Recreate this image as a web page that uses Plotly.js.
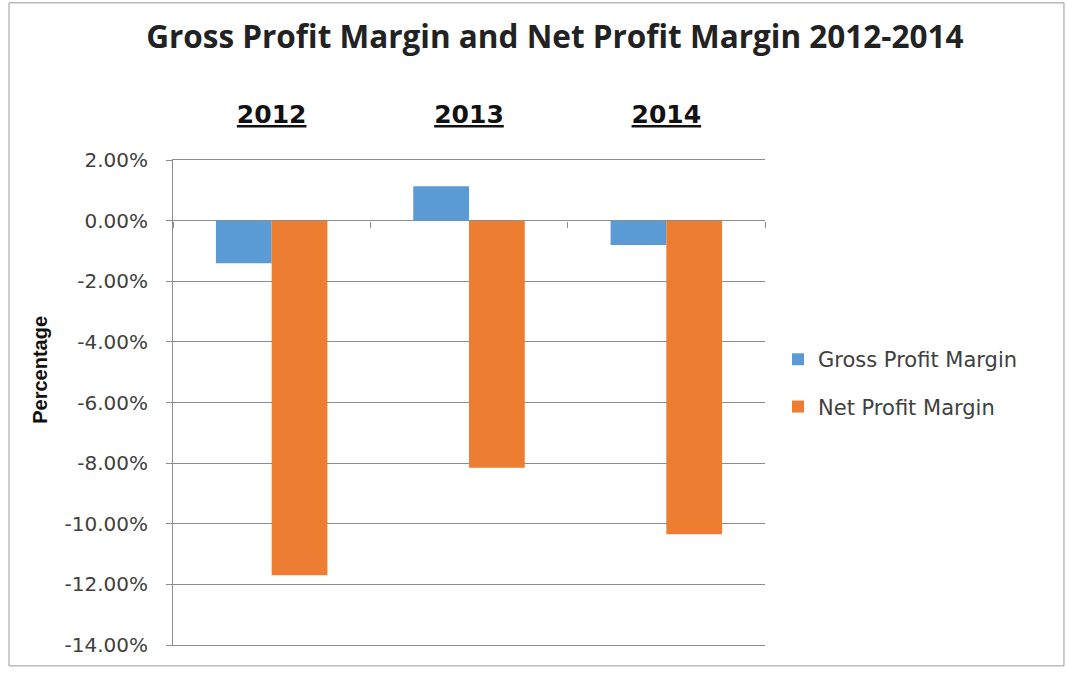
<!DOCTYPE html>
<html>
<head>
<meta charset="utf-8">
<script src="https://cdn.plot.ly/plotly-3.0.1.min.js"></script>
<style>html,body{margin:0;padding:0;background:#fff;}#chart{width:1067px;height:673px;}</style>
</head>
<body>
<div id="chart"></div>
<script>
const years = ['2012', '2013', '2014'];
const yearLabels = ['<b><u>2012</u></b>', '<b><u>2013</u></b>', '<b><u>2014</u></b>'];
const grossProfitMargin = [-0.0141, 0.0113, -0.0080];
const netProfitMargin = [-0.1170, -0.0815, -0.1035];
const yTickVals = [0.02, 0, -0.02, -0.04, -0.06, -0.08, -0.10, -0.12, -0.14];
const yTickText = ['2.00%', '0.00%', '-2.00%', '-4.00%', '-6.00%', '-8.00%', '-10.00%', '-12.00%', '-14.00%'];
const yMin = -0.14, yMax = 0.02;

const gridColor = '#8c8c8c';
const textColor = '#404040';

const traces = [
  {type: 'bar', name: 'Gross Profit Margin', x: years, y: grossProfitMargin,
   marker: {color: '#5B9BD5'}, legendgroup: 'g1', hoverinfo: 'x+y'},
  {type: 'bar', name: 'Net Profit Margin', x: years, y: netProfitMargin,
   marker: {color: '#ED7D31'}, legendgroup: 'g2', hoverinfo: 'x+y'},
  {type: 'scatter', mode: 'markers', x: years, y: years.map(() => 0), xaxis: 'x2',
   marker: {opacity: 0}, showlegend: false, hoverinfo: 'skip'}
];

const layout = {
  width: 1067, height: 673,
  paper_bgcolor: '#ffffff', plot_bgcolor: '#ffffff',
  margin: {l: 173, r: 302, t: 160, b: 28},
  font: {family: 'DejaVu Sans, sans-serif', color: textColor},
  title: {text: '<b>Gross Profit Margin and Net Profit Margin 2012-2014</b>',
    font: {family: 'Open Sans, sans-serif', size: 31.5, color: '#222'},
    x: 0.52, xanchor: 'center', y: 0.945, yanchor: 'middle'},
  barmode: 'group', bargap: 0.435, bargroupgap: 0,
  xaxis: {type: 'category', side: 'top', range: [-0.5, 2.5],
    tickvals: years, ticktext: yearLabels, ticks: '', showline: true, mirror: true,
    linecolor: gridColor, linewidth: 1, showgrid: false,
    zeroline: false, ticklabelstandoff: 26,
    tickfont: {family: 'DejaVu Sans, sans-serif', size: 25, color: '#111'}},
  xaxis2: {type: 'category', overlaying: 'x', anchor: 'free', side: 'bottom',
    position: (0 - yMin) / (yMax - yMin), range: [-0.5, 2.5],
    ticks: 'outside', tickson: 'boundaries', ticklen: 6, tickcolor: gridColor,
    showticklabels: false, showline: false, showgrid: false, zeroline: false},
  yaxis: {range: [yMin, yMax], tickvals: yTickVals, ticktext: yTickText,
    showgrid: true, gridcolor: gridColor, gridwidth: 1,
    zeroline: true, zerolinecolor: gridColor, zerolinewidth: 1,
    showline: true, linecolor: gridColor, linewidth: 1,
    ticks: 'outside', ticklen: 6, tickcolor: gridColor, ticklabelstandoff: 14,
    tickfont: {family: 'DejaVu Sans, sans-serif', size: 20, color: textColor}},
  legend: {x: 1.022, xanchor: 'left', y: 0.54, yanchor: 'middle',
    traceorder: 'grouped', tracegroupgap: 17,
    font: {family: 'DejaVu Sans, sans-serif', size: 21, color: textColor},
    bgcolor: 'rgba(0,0,0,0)'},
  annotations: [{text: '<b>Percentage</b>', textangle: -90, showarrow: false,
    xref: 'paper', yref: 'paper', x: -0.225, y: 0.567, xanchor: 'center', yanchor: 'middle',
    font: {family: 'Liberation Sans, sans-serif', size: 20, color: '#111'}}],
  shapes: [{type: 'rect', xref: 'paper', yref: 'paper',
    x0: -0.277, x1: 1.505, y0: -0.043, y1: 1.324,
    line: {color: '#9a9a9a', width: 1}, fillcolor: 'rgba(0,0,0,0)', layer: 'below'}],
  showlegend: true
};

Plotly.newPlot('chart', traces, layout, {displayModeBar: false, staticPlot: true});
</script>
</body>
</html>
